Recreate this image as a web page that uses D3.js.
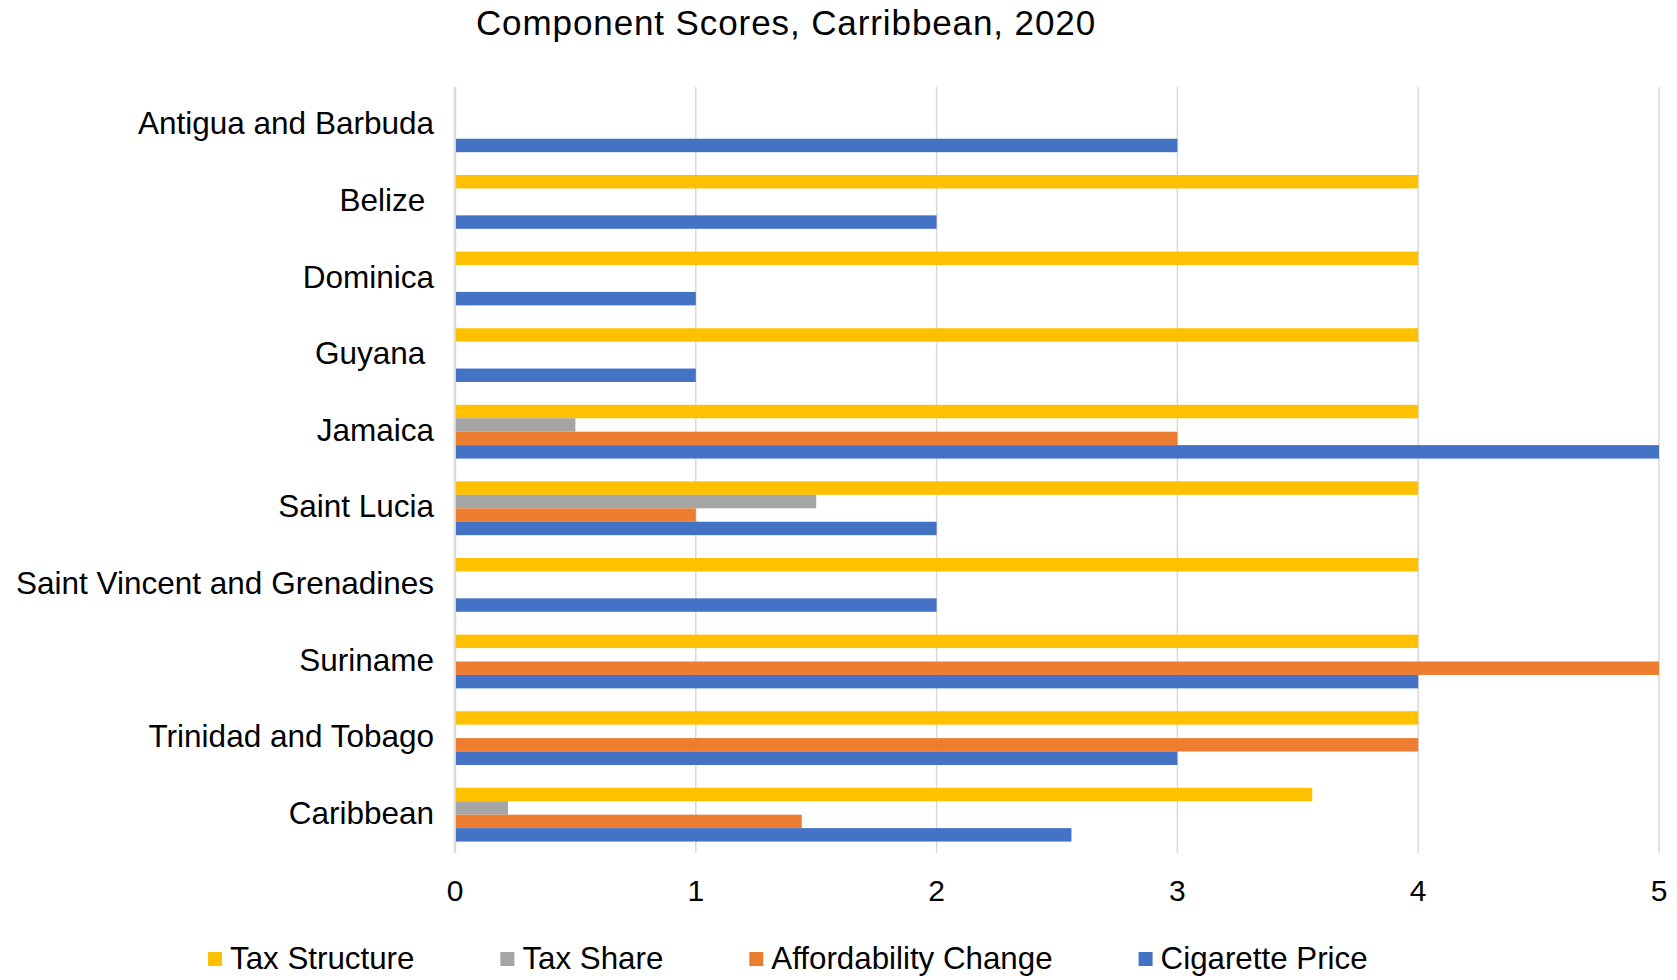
<!DOCTYPE html>
<html>
<head>
<meta charset="utf-8">
<script src="https://cdn.jsdelivr.net/npm/d3@7"></script>
<style>
  body { margin: 0; background: #fff; }
  text { font-family: Arial, "Liberation Sans", sans-serif; fill: #000; }
</style>
</head>
<body>
<div id="chart"></div>
<script>
var countries = ["Antigua and Barbuda", "Belize ", "Dominica", "Guyana ", "Jamaica", "Saint Lucia",
                 "Saint Vincent and Grenadines", "Suriname", "Trinidad and Tobago", "Caribbean"];
var seriesNames = ["Tax Structure", "Tax Share", "Affordability Change", "Cigarette Price"];
var seriesColors = ["#FFC000", "#A5A5A5", "#ED7D31", "#4472C4"];

var taxStructure = [0, 4, 4, 4, 4, 4, 4, 4, 4, 3.56];
var taxShare = [0, 0, 0, 0, 0.5, 1.5, 0, 0, 0, 0.22];
var affordability = [0, 0, 0, 0, 3, 1, 0, 5, 4, 1.44];
var cigPrice = [3, 2, 1, 1, 5, 2, 2, 4, 3, 2.56];
var xTicks = [0, 1, 2, 3, 4, 5];

var allSeries = [taxStructure, taxShare, affordability, cigPrice];

var width = 1677, height = 980;
var margin = {top: 87, right: 18, bottom: 127, left: 455};

var svg = d3.select("#chart").append("svg")
    .attr("width", width)
    .attr("height", height);

var x = d3.scaleLinear().domain([0, 5]).range([margin.left, width - margin.right]);
var y = d3.scaleBand().domain(countries).range([margin.top, height - margin.bottom]).paddingInner(0).paddingOuter(0);
var ySub = d3.scaleBand().domain(seriesNames).range([0, y.bandwidth()]).paddingOuter(0.85).paddingInner(0);

// title
svg.append("text")
    .attr("x", 786)
    .attr("y", 35)
    .attr("text-anchor", "middle")
    .style("font-size", "35px")
    .style("letter-spacing", "0.9px")
    .text("Component Scores, Carribbean, 2020");

// gridlines
svg.append("g").selectAll("line")
    .data(xTicks)
    .enter().append("line")
      .attr("x1", function(d) { return x(d); })
      .attr("x2", function(d) { return x(d); })
      .attr("y1", margin.top)
      .attr("y2", height - margin.bottom)
      .attr("stroke", "#D9D9D9")
      .attr("stroke-width", function(d) { return d === 0 ? 2.5 : 1.5; });

// bars
var groups = svg.append("g").selectAll("g")
    .data(countries)
    .enter().append("g")
      .attr("transform", function(d) { return "translate(0," + y(d) + ")"; });

groups.selectAll("rect")
    .data(function(d, i) {
      return seriesNames.map(function(s, j) { return {series: s, color: seriesColors[j], value: allSeries[j][i]}; });
    })
    .enter().append("rect")
      .filter(function(d) { return d.value > 0; })
      .attr("x", x(0) + 1)
      .attr("y", function(d) { return ySub(d.series); })
      .attr("width", function(d) { return x(d.value) - x(0) - 1; })
      .attr("height", ySub.bandwidth())
      .attr("fill", function(d) { return d.color; });

// category labels
svg.append("g").selectAll("text")
    .data(countries)
    .enter().append("text")
      .attr("x", margin.left - 21)
      .attr("y", function(d) { return y(d) + y.bandwidth() / 2 - 2; })
      .attr("dy", "0.35em")
      .attr("text-anchor", "end")
      .style("font-size", "31.5px")
      .style("white-space", "pre")
      .text(function(d) { return d; });

// x tick labels
svg.append("g").selectAll("text")
    .data(xTicks)
    .enter().append("text")
      .attr("x", function(d) { return x(d); })
      .attr("y", 901)
      .attr("text-anchor", "middle")
      .style("font-size", "30px")
      .text(function(d) { return d; });

// legend
var legend = svg.append("g");
var lx = 208;
seriesNames.forEach(function(s, j) {
  legend.append("rect")
      .attr("x", lx)
      .attr("y", 952)
      .attr("width", 14)
      .attr("height", 14)
      .attr("fill", seriesColors[j]);
  var t = legend.append("text")
      .attr("x", lx + 22)
      .attr("y", 969)
      .style("font-size", "31.3px")
      .text(s);
  lx += 22 + t.node().getComputedTextLength() + 86;
});
</script>
</body>
</html>
